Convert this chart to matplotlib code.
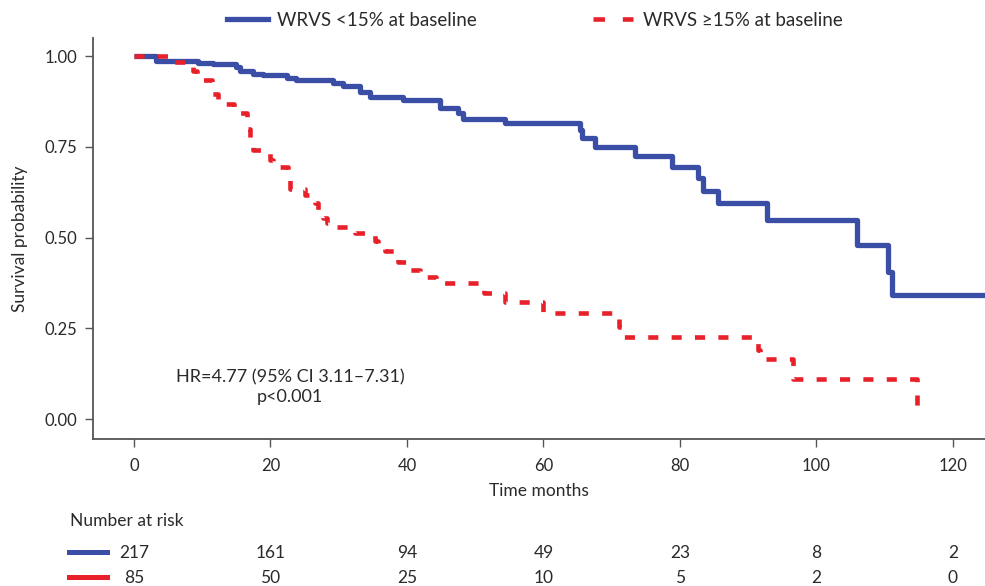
import matplotlib
matplotlib.use('Agg')
import matplotlib.pyplot as plt
from matplotlib.lines import Line2D

plt.rcParams['font.family'] = ['Lato', 'DejaVu Sans']

# ---- data ----
blue_times = [0, 3.3, 9.4, 11.6, 15.0, 15.5, 17.5, 18.9, 22.4, 23.8, 29.2, 30.7,
              33.1, 34.6, 39.4, 44.8, 47.5, 48.2, 54.4, 65.3, 65.6, 67.5, 73.4,
              78.8, 82.6, 83.4, 85.6, 92.7, 106.0, 110.5, 111.1, 126.0]
blue_surv = [1.0, 0.987, 0.982, 0.978, 0.97, 0.96, 0.952, 0.948, 0.94, 0.934, 0.925, 0.917,
             0.90, 0.888, 0.879, 0.856, 0.843, 0.828, 0.816, 0.796, 0.774, 0.75, 0.724,
             0.695, 0.664, 0.629, 0.596, 0.548, 0.479, 0.406, 0.342, 0.342]

red_times = [0, 5.6, 8.6, 9.2, 11.4, 12.3, 14.7, 16.6, 17.0, 17.4, 19.9, 20.4,
             22.6, 22.9, 25.1, 26.5, 27.0, 27.7, 28.3, 29.5, 32.4, 35.3, 35.8,
             36.8, 38.2, 38.7, 40.1, 41.9, 44.2, 50.7, 51.3, 54.4, 59.9, 71.1,
             71.6, 91.4, 91.7, 96.6, 114.7]
red_surv = [1.0, 0.985, 0.96, 0.934, 0.895, 0.868, 0.843, 0.80, 0.76, 0.74, 0.715, 0.695,
            0.66, 0.634, 0.617, 0.595, 0.576, 0.555, 0.54, 0.53, 0.512, 0.49, 0.48,
            0.464, 0.445, 0.433, 0.41, 0.392, 0.374, 0.36, 0.347, 0.323, 0.292, 0.254,
            0.226, 0.19, 0.165, 0.109, 0.02]

risk_times = [0, 20, 40, 60, 80, 100, 120]
risk_blue = [217, 161, 94, 49, 23, 8, 2]
risk_red = [85, 50, 25, 10, 5, 2, 0]

series_labels = ['WRVS <15% at baseline', 'WRVS \u226515% at baseline']
y_ticks = [0.0, 0.25, 0.5, 0.75, 1.0]
x_ticks = [0, 20, 40, 60, 80, 100, 120]
hr_text = 'HR=4.77 (95% CI 3.11\u20137.31)\np<0.001'

BLUE = '#3a4ea6'
RED = '#e8202a'
TXT = '#2a2a2a'

fig = plt.figure(figsize=(9.85, 5.86), dpi=100)
ax = fig.add_axes([93/985, 147/586, 892/985, 401/586])

ax.step(blue_times, blue_surv, where='post', color=BLUE, lw=3.8,
        solid_capstyle='butt', label=series_labels[0], zorder=2)
ax.step(red_times, red_surv, where='post', color=RED, lw=3.3,
        dashes=(2.2, 2.9), dash_capstyle='butt', label=series_labels[1], zorder=3)

ax.set_xlim(-6.0, 124.7)
ax.set_ylim(-0.055, 1.05)
ax.set_xticks(x_ticks)
ax.set_yticks(y_ticks)
ax.set_yticklabels([f'{v:.2f}' for v in y_ticks])
for s in ['top', 'right']:
    ax.spines[s].set_visible(False)
for s in ['left', 'bottom']:
    ax.spines[s].set_color('#555555')
    ax.spines[s].set_linewidth(1.3)
ax.tick_params(axis='both', direction='out', length=6, width=1.0, color='#555555',
               labelsize=12, labelcolor=TXT)
ax.tick_params(axis='x', pad=8)
ax.tick_params(axis='y', pad=5)
ax.set_xlabel('Time months', fontsize=12.5, color=TXT, labelpad=6)
ax.set_ylabel('Survival probability', fontsize=12.5, color=TXT, labelpad=12)

ax.text(22.9, 0.088, hr_text, ha='center', va='center', fontsize=13,
        color=TXT, linespacing=1.3)

# legend
handles = [Line2D([], [], color=BLUE, lw=3.8),
           Line2D([], [], color=RED, lw=3.3, dashes=(2.5, 3.9), dash_capstyle='butt')]
fig.legend(handles, series_labels, loc='center', bbox_to_anchor=(535/985, 1 - 20/586),
           ncol=2, frameon=False, fontsize=13.5, handlelength=2.15, handletextpad=0.5,
           columnspacing=6.2, labelcolor=TXT)

# risk table
fig.text(70/985, 1 - 521/586, 'Number at risk', ha='left', va='center',
         fontsize=12.5, color=TXT)
trans = ax.get_xaxis_transform()
for t, nb, nr in zip(risk_times, risk_blue, risk_red):
    ax.annotate(str(nb), xy=(t, 0), xycoords=trans, xytext=(0, -(553 - 439)),
                textcoords='offset pixels', ha='center', va='center',
                fontsize=12.5, color=TXT, annotation_clip=False)
    ax.annotate(str(nr), xy=(t, 0), xycoords=trans, xytext=(0, -(578 - 439)),
                textcoords='offset pixels', ha='center', va='center',
                fontsize=12.5, color=TXT, annotation_clip=False)
fig.add_artist(Line2D([69/985, 107/985], [1 - 552/586, 1 - 552/586], color=BLUE, lw=3.6))
fig.add_artist(Line2D([69/985, 107/985], [1 - 577/586, 1 - 577/586], color=RED, lw=3.6))

fig.savefig('out.png', dpi=100)
